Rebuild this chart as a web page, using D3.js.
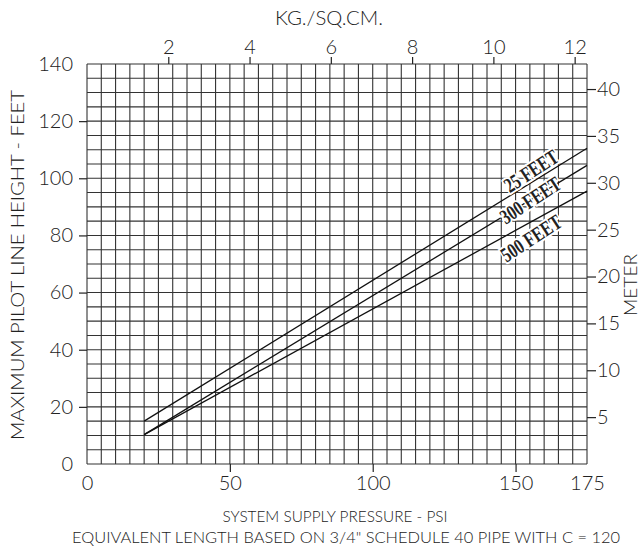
<!DOCTYPE html>
<html><head><meta charset="utf-8">
<script src="https://cdn.jsdelivr.net/npm/d3@7"></script>
<style>body{margin:0;background:#fff}text{font-family:Lato,"Noto Sans",sans-serif;fill:#222}</style>
</head><body><svg id="c" width="643" height="547"></svg>
<script>
const psiTicks=[0,50,100,150,175];
const feetTicks=[0,20,40,60,80,100,120,140];
const kgTicks=[2,4,6,8,10,12];
const meterTicks=[5,10,15,20,25,30,35,40];
const seriesNames=["25 FEET","300 FEET","500 FEET"];
const psiValues=[20,175];
const feet25=[15,110.5];
const feet300=[10.3,104.5];
const feet500=[10.3,95.5];

const PSI_PER_KG=14.2233, FT_PER_M=3.28084;
const FONT="Lato,'Noto Sans',sans-serif";
const svg=d3.select("#c");
const L=87,R=587,T=64,B=464;
const x=d3.scaleLinear().domain([0,175]).range([L,R]);
const y=d3.scaleLinear().domain([0,140]).range([B,T]);
const xKg=d3.scaleLinear().domain([0,175/PSI_PER_KG]).range([L,R]);
const yM=d3.scaleLinear().domain([0,140/FT_PER_M]).range([B,T]);

const g=svg.append("g");
g.selectAll("line.v").data(d3.range(0,176,5)).enter().append("line")
 .attr("x1",d=>x(d)).attr("x2",d=>x(d)).attr("y1",T).attr("y2",B)
 .attr("stroke","#333").attr("stroke-width",1.1);
g.selectAll("line.h").data(d3.range(0,141,5)).enter().append("line")
 .attr("y1",d=>y(d)).attr("y2",d=>y(d)).attr("x1",L).attr("x2",R)
 .attr("stroke","#333").attr("stroke-width",1.1);

function styleAxis(sel){sel.select(".domain").remove();sel.selectAll(".tick line").attr("stroke","#222").attr("stroke-width",1.2);
 sel.selectAll(".tick text").attr("font-size",20).attr("fill","#222").style("font-family",FONT).style("font-weight",300);}
svg.append("g").attr("transform",`translate(0,${B})`)
 .call(d3.axisBottom(x).tickValues(psiTicks).tickSize(8).tickPadding(4)).call(styleAxis)
 .call(s=>s.selectAll(".tick line").filter(d=>d===0||d===175).remove());
svg.append("g").attr("transform",`translate(${L},0)`)
 .call(d3.axisLeft(y).tickValues(feetTicks).tickSize(8).tickPadding(6)).call(styleAxis)
 .call(s=>s.selectAll(".tick line").filter(d=>d===0||d===140).remove());
svg.append("g").attr("transform",`translate(0,${T})`)
 .call(d3.axisTop(xKg).tickValues(kgTicks).tickSize(7).tickPadding(3)).call(styleAxis);
svg.append("g").attr("transform",`translate(${R},0)`)
 .call(d3.axisRight(yM).tickValues(meterTicks).tickSize(9).tickPadding(1)).call(styleAxis);

const data=[feet25,feet300,feet500];
const line=d3.line().x((d,i)=>x(psiValues[i])).y(d=>y(d));
svg.selectAll("path.s").data(data).enter().append("path")
 .attr("d",d=>line(d)).attr("fill","none").attr("stroke","#111").attr("stroke-width",1.3);

const labelPsi=[155.4,155.1,155.4];
const labelFt=[102.6,92.4,79.1];
const labelLen=[60,68,68];
svg.selectAll("text.lab").data(seriesNames).enter().append("text")
 .attr("transform",(d,i)=>`translate(${x(labelPsi[i])},${y(labelFt[i])}) rotate(-33)`)
 .attr("text-anchor","middle").attr("dy","0.35em").attr("font-size",21).attr("font-weight","bold")
 .attr("textLength",(d,i)=>labelLen[i]).attr("lengthAdjust","spacingAndGlyphs")
 .style("font-family","'Liberation Serif',serif")
 .attr("stroke","#fff").attr("stroke-width",4).style("paint-order","stroke")
 .text(d=>d);

const t=(s)=>s.style("font-family",FONT).style("font-weight",300);
svg.append("text").attr("x",329).attr("y",25).attr("text-anchor","middle").attr("font-size",19).attr("textLength",108).attr("lengthAdjust","spacingAndGlyphs").call(t).text("KG./SQ.CM.");
svg.append("text").attr("x",335).attr("y",522).attr("text-anchor","middle").attr("font-size",16).attr("textLength",225).attr("lengthAdjust","spacingAndGlyphs").call(t).text("SYSTEM SUPPLY PRESSURE - PSI");
svg.append("text").attr("x",346).attr("y",543).attr("text-anchor","middle").attr("font-size",16).call(t)
 .attr("textLength",548).attr("lengthAdjust","spacingAndGlyphs").text('EQUIVALENT LENGTH BASED ON 3/4" SCHEDULE 40 PIPE WITH C = 120');
svg.append("text").attr("transform","translate(24,265) rotate(-90)").attr("text-anchor","middle").attr("font-size",17).call(t)
 .attr("textLength",350).attr("lengthAdjust","spacingAndGlyphs").text("MAXIMUM PILOT LINE HEIGHT - FEET");
svg.append("text").attr("transform","translate(637,285) rotate(-90)").attr("text-anchor","middle").attr("font-size",18).call(t)
 .attr("textLength",62).attr("lengthAdjust","spacingAndGlyphs").text("METER");
</script></body></html>
